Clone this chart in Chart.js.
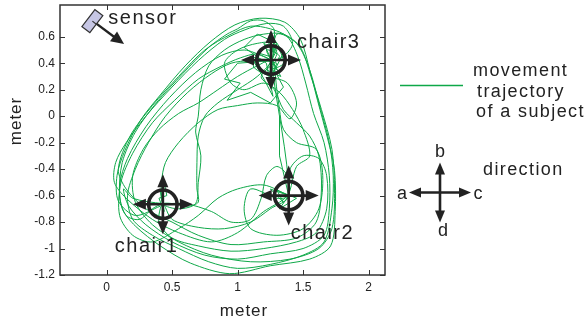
<!DOCTYPE html>
<html><head><meta charset="utf-8">
<script src="https://cdn.jsdelivr.net/npm/chart.js@4/dist/chart.umd.min.js"></script>
<style>html,body{margin:0;padding:0;background:#fff}#wrap{width:585px;height:327px;position:relative}</style>
</head><body><div id="wrap"><canvas id="c" width="585" height="327"></canvas></div>
<script>
// ---- axis ticks ----
const xTicks = [0, 0.5, 1, 1.5, 2];
const yTicks = [-1.2, -1, -0.8, -0.6, -0.4, -0.2, 0, 0.2, 0.4, 0.6];
const xRange = [-0.355, 2.125];
const yRange = [-1.2, 0.84];

// ---- landmarks ----
const chairNames = ['chair1', 'chair2', 'chair3'];
const chairX = [0.43, 1.39, 1.255];
const chairY = [-0.665, -0.6, 0.425];
const sensorPos = [-0.108, 0.718];
const sensorAim = [0.134, 0.545];

// ---- trajectory ----
const loop1 = [[0.41,-0.68],[0.22,-0.75],[0.09,-0.64],[0.08,-0.45],[0.14,-0.26],[0.26,-0.03],[0.41,0.16],[0.60,0.38],[0.79,0.56],[0.98,0.69],[1.17,0.74],[1.36,0.71],[1.48,0.58],[1.55,0.35],[1.61,0.12],[1.69,-0.18],[1.74,-0.41],[1.745,-0.72],[1.71,-0.98],[1.55,-1.08],[1.25,-1.13],[0.94,-1.19],[0.64,-1.11],[0.41,-0.98],[0.22,-0.83],[0.12,-0.70]];
const loop2 = [[0.10,-0.52],[0.16,-0.32],[0.30,-0.08],[0.48,0.14],[0.68,0.33],[0.88,0.46],[1.05,0.50],[1.20,0.45],[1.26,0.42],[1.30,0.35],[1.22,0.50],[1.32,0.45],[1.18,0.30],[1.28,0.20],[1.35,0.05],[1.45,-0.05],[1.55,-0.15],[1.62,-0.30],[1.64,-0.55],[1.60,-0.80],[1.45,-0.92],[1.20,-0.95],[0.95,-0.97],[0.70,-0.90],[0.50,-0.80],[0.30,-0.70],[0.15,-0.55],[0.09,-0.40]];
const loop3 = [[0.18,-0.15],[0.35,0.08],[0.55,0.30],[0.75,0.50],[0.95,0.62],[1.10,0.68],[1.25,0.66],[1.38,0.60],[1.46,0.45],[1.52,0.25],[1.58,0.02],[1.66,-0.20],[1.70,-0.45],[1.70,-0.70],[1.66,-0.90],[1.50,-1.00],[1.25,-1.04],[1.00,-1.08],[0.75,-1.05],[0.50,-0.95],[0.30,-0.82],[0.17,-0.68],[0.13,-0.55]];
const loop4 = [[0.20,-0.62],[0.43,-0.66],[0.60,-0.66],[0.80,-0.72],[0.95,-0.80],[1.10,-0.78],[1.18,-0.62],[1.22,-0.45],[1.30,-0.38],[1.38,-0.45],[1.39,-0.60],[1.30,-0.62],[1.10,-0.55],[1.05,-0.70],[1.10,-0.85],[1.30,-0.90],[1.50,-0.85],[1.62,-0.70],[1.65,-0.45],[1.60,-0.25],[1.45,-0.20],[1.35,-0.10],[1.32,0.05],[1.30,0.20],[1.26,0.42]];
const loop5 = [[1.15,0.38],[1.00,0.30],[0.85,0.20],[0.70,0.10],[0.55,0.02],[0.40,-0.10],[0.28,-0.25],[0.20,-0.45],[0.22,-0.65],[0.35,-0.82],[0.55,-0.95],[0.80,-1.05],[1.10,-1.10],[1.40,-1.08],[1.62,-1.00],[1.72,-0.85],[1.74,-0.55],[1.72,-0.25],[1.64,0.05],[1.56,0.30],[1.48,0.52],[1.35,0.62],[1.20,0.62],[1.05,0.58],[0.90,0.50],[0.78,0.38],[0.72,0.20],[0.70,0.00],[0.68,-0.12],[0.72,-0.30],[0.70,-0.50],[0.68,-0.66],[0.55,-0.70],[0.43,-0.66]];
const loop6 = [[0.42,-0.50],[0.45,-0.35],[0.55,-0.20],[0.70,-0.05],[0.85,0.05],[1.00,0.08],[1.15,0.10],[1.30,0.08],[1.40,-0.02],[1.45,0.10],[1.38,0.25],[1.25,0.30],[1.12,0.38],[1.22,0.52],[1.30,0.48],[1.25,0.36],[1.35,0.40],[1.28,0.55],[1.15,0.55],[1.00,0.50],[0.90,0.40],[0.95,0.25],[1.05,0.20],[1.20,0.25],[1.32,0.18],[1.42,0.05],[1.50,-0.10],[1.55,-0.30],[1.45,-0.38],[1.38,-0.60]];
const loop7 = [[1.20,-0.72],[1.00,-0.88],[0.80,-0.95],[0.55,-0.88],[0.35,-0.78],[0.15,-0.62],[0.06,-0.50],[0.07,-0.35],[0.15,-0.20],[0.30,0.00],[0.50,0.22],[0.70,0.42],[0.90,0.58],[1.05,0.65],[1.22,0.70],[1.35,0.68],[1.42,0.55],[1.35,0.45],[1.26,0.42]];
const loop8 = [[1.10,0.42],[0.95,0.40],[0.80,0.32],[0.62,0.18],[0.45,0.00],[0.32,-0.20],[0.22,-0.40],[0.16,-0.60],[0.20,-0.78],[0.35,-0.90],[0.55,-1.00],[0.78,-1.10],[1.00,-1.15],[1.25,-1.12],[1.50,-1.05],[1.66,-0.95],[1.72,-0.70],[1.73,-0.45],[1.70,-0.20],[1.62,0.10],[1.55,0.35],[1.45,0.55],[1.30,0.62],[1.26,0.42]];
const loop9 = [[1.15,0.30],[1.00,0.20],[0.85,0.10],[0.75,0.00],[0.70,-0.15],[0.69,-0.35],[0.69,-0.55],[0.70,-0.65],[0.62,-0.68],[0.50,-0.66],[0.43,-0.66],[0.35,-0.70],[0.25,-0.78],[0.15,-0.75],[0.10,-0.60],[0.12,-0.35],[0.22,-0.12],[0.38,0.10],[0.58,0.32],[0.78,0.52],[0.92,0.62],[1.00,0.66],[1.10,0.72],[1.20,0.72],[1.28,0.65],[1.26,0.42]];
const loop10 = [[1.39,-0.60],[1.25,-0.70],[1.10,-0.80],[0.90,-0.85],[0.70,-0.84],[0.50,-0.78],[0.43,-0.66],[0.40,-0.80],[0.50,-0.92],[0.70,-0.98],[0.95,-1.02],[1.20,-1.00],[1.45,-0.95],[1.60,-0.88],[1.68,-0.70],[1.68,-0.45],[1.62,-0.32],[1.50,-0.30],[1.40,-0.40],[1.39,-0.60]];
const loop11 = [[1.39,-0.60],[1.20,-0.52],[1.00,-0.55],[0.85,-0.62],[0.70,-0.75],[0.55,-0.85],[0.35,-0.95],[0.20,-0.90],[0.10,-0.75],[0.11,-0.50],[0.20,-0.28],[0.35,-0.05],[0.52,0.12],[0.70,0.28],[0.88,0.38],[1.02,0.44],[1.15,0.47],[1.26,0.42]];
const jagChair3 = [[1.26,0.42],[1.20,0.55],[1.30,0.50],[1.22,0.35],[1.33,0.30],[1.25,0.45],[1.15,0.48],[1.28,0.58],[1.35,0.48],[1.24,0.26],[1.30,0.40],[1.10,0.45],[1.18,0.32],[1.27,0.15],[1.22,0.40],[1.05,0.52],[1.15,0.62],[1.30,0.55],[1.26,0.42],[1.00,0.40],[0.90,0.28],[1.02,0.25],[0.92,0.12],[1.10,0.18],[1.25,0.10],[1.35,0.22],[1.28,0.35]];
const jagChair2 = [[1.39,-0.60],[1.25,-0.55],[1.35,-0.65],[1.30,-0.56],[1.45,-0.62],[1.32,-0.70],[1.39,-0.60],[1.32,-0.30],[1.32,0.00]];
const jagChair1 = [[0.43,-0.66],[0.41,-0.55],[0.44,-0.72],[0.40,-0.62],[0.46,-0.60],[0.43,-0.45]];

const smoothPath = [].concat(loop1, loop2, loop3, loop4, loop5, loop6, loop7, loop8, loop9, loop10, loop11);
const jagPaths = [jagChair3, jagChair2, jagChair1];

const GREEN = 'rgb(14,168,72)';
const INK = '#222';
const FONT = "'Liberation Sans', Arial, Helvetica, sans-serif";

function fmt(v){ if (Math.abs(v) < 1e-9) return '0'; return (v<0?'-':'') + String(+Math.abs(v).toFixed(2)); }

function head(ctx, x, y, ang, len, w){
  ctx.beginPath();
  ctx.moveTo(x, y);
  ctx.lineTo(x - len*Math.cos(ang) + (w/2)*Math.sin(ang), y - len*Math.sin(ang) - (w/2)*Math.cos(ang));
  ctx.lineTo(x - len*Math.cos(ang) - (w/2)*Math.sin(ang), y - len*Math.sin(ang) + (w/2)*Math.cos(ang));
  ctx.closePath(); ctx.fill();
}
function cross(ctx, cx, cy, hx, hy, lw, hl, hw){
  ctx.lineWidth = lw;
  ctx.beginPath();
  ctx.moveTo(cx-hx+hl*0.6, cy); ctx.lineTo(cx+hx-hl*0.6, cy);
  ctx.moveTo(cx, cy-hy+hl*0.6); ctx.lineTo(cx, cy+hy-hl*0.6);
  ctx.stroke();
  head(ctx, cx-hx, cy, Math.PI, hl, hw);
  head(ctx, cx+hx, cy, 0, hl, hw);
  head(ctx, cx, cy-hy, -Math.PI/2, hl, hw);
  head(ctx, cx, cy+hy, Math.PI/2, hl, hw);
}
function txt(ctx, s, x, y, size, sp, align){
  ctx.font = size + 'px ' + FONT;
  ctx.letterSpacing = sp + 'px';
  ctx.textAlign = align || 'left';
  ctx.textBaseline = 'alphabetic';
  ctx.fillText(s, x, y);
  ctx.letterSpacing = '0px';
}

const decor = {
  id: 'decor',
  afterDraw(chart){
    const ctx = chart.ctx, a = chart.chartArea, xs = chart.scales.x, ys = chart.scales.y;
    ctx.save();
    ctx.strokeStyle = '#333'; ctx.fillStyle = INK;
    // frame
    ctx.lineWidth = 1.5;
    ctx.strokeRect(a.left, a.top, a.right-a.left, a.bottom-a.top);
    // inward ticks
    ctx.lineWidth = 1;
    ctx.beginPath();
    xTicks.forEach(v => { const p = Math.round(xs.getPixelForValue(v))+0.5;
      ctx.moveTo(p, a.bottom); ctx.lineTo(p, a.bottom-5);
      ctx.moveTo(p, a.top); ctx.lineTo(p, a.top+5); });
    yTicks.forEach(v => { const p = Math.round(ys.getPixelForValue(v))+0.5;
      ctx.moveTo(a.left, p); ctx.lineTo(a.left+5, p);
      ctx.moveTo(a.right, p); ctx.lineTo(a.right-5, p); });
    ctx.stroke();
    // axis titles
    ctx.fillStyle = INK;
    txt(ctx, 'meter', 244, 316, 17, 1, 'center');
    ctx.save(); ctx.translate(21, 121); ctx.rotate(-Math.PI/2);
    txt(ctx, 'meter', 0, 0, 17, 1, 'center'); ctx.restore();

    // chairs
    ctx.strokeStyle = INK; ctx.fillStyle = INK;
    chairX.forEach((cxv, i) => {
      const cx = xs.getPixelForValue(cxv), cy = ys.getPixelForValue(chairY[i]);
      cross(ctx, cx, cy, 30, 30, 2.6, 13, 11);
      ctx.lineWidth = 3.6;
      ctx.beginPath(); ctx.arc(cx, cy, 14.2, 0, Math.PI*2); ctx.stroke();
    });
    const labelOff = [[-48, 48], [2, 43], [26, -12]];
    chairNames.forEach((n, i) => {
      const cx = xs.getPixelForValue(chairX[i]), cy = ys.getPixelForValue(chairY[i]);
      txt(ctx, n, cx + labelOff[i][0], cy + labelOff[i][1], 20, 1.5);
    });

    // sensor
    const sx = xs.getPixelForValue(sensorPos[0]), sy = ys.getPixelForValue(sensorPos[1]);
    const tx = xs.getPixelForValue(sensorAim[0]), ty = ys.getPixelForValue(sensorAim[1]);
    const ang = Math.atan2(ty - sy, tx - sx);
    ctx.lineWidth = 2.4;
    ctx.beginPath(); ctx.moveTo(sx+2, sy+1); ctx.lineTo(tx - 10*Math.cos(ang), ty - 10*Math.sin(ang)); ctx.stroke();
    head(ctx, tx, ty, ang, 13, 12);
    ctx.save(); ctx.translate(sx, sy); ctx.rotate(-52.6*Math.PI/180);
    ctx.fillStyle = '#c6c6e4'; ctx.strokeStyle = '#333'; ctx.lineWidth = 1.2;
    ctx.fillRect(-10.7, -5, 21.4, 10); ctx.strokeRect(-10.7, -5, 21.4, 10);
    ctx.beginPath(); ctx.moveTo(0, 0); ctx.lineTo(0, 5); ctx.stroke();
    ctx.restore();
    ctx.fillStyle = INK;
    txt(ctx, 'sensor', sx + 16, sy + 3, 20, 1.5);

    // legend: trajectory
    ctx.strokeStyle = GREEN; ctx.lineWidth = 1.6;
    ctx.beginPath(); ctx.moveTo(400, 85.5); ctx.lineTo(463, 85.5); ctx.stroke();
    ctx.fillStyle = INK;
    txt(ctx, 'movement', 473, 76, 18, 1.4);
    txt(ctx, 'trajectory', 477, 97, 18, 1.4);
    txt(ctx, 'of a subject', 476, 117, 18, 1.4);

    // legend: direction
    ctx.strokeStyle = INK; ctx.fillStyle = INK;
    cross(ctx, 440, 192.5, 31, 30, 2.6, 12, 10);
    txt(ctx, 'b', 440, 157, 18, 0, 'center');
    txt(ctx, 'a', 402, 199, 18, 0, 'center');
    txt(ctx, 'c', 478, 199, 18, 0, 'center');
    txt(ctx, 'd', 443, 236, 18, 0, 'center');
    txt(ctx, 'direction', 483, 175, 18, 1.4);
    ctx.restore();
  }
};

const toPts = arr => arr.map(p => ({x: p[0], y: p[1]}));
const datasets = [{
  data: toPts(smoothPath), showLine: true, borderColor: GREEN, borderWidth: 1,
  pointRadius: 0, tension: 0.3, fill: false
}].concat(jagPaths.map(p => ({
  data: toPts(p), showLine: true, borderColor: GREEN, borderWidth: 1,
  pointRadius: 0, tension: 0, fill: false
})));

const tickFont = {family: FONT, size: 12};
new Chart(document.getElementById('c'), {
  type: 'scatter',
  data: {datasets},
  options: {
    responsive: false, animation: false, devicePixelRatio: 1,
    layout: {padding: {left: 0, right: 200, top: 5, bottom: 0}},
    plugins: {legend: {display: false}, tooltip: {enabled: false}},
    scales: {
      x: {
        type: 'linear', min: xRange[0], max: xRange[1],
        afterBuildTicks: s => { s.ticks = xTicks.map(v => ({value: v})); },
        afterFit: s => { s.height = 52; s.paddingLeft = 0; s.paddingRight = 0; },
        ticks: {font: tickFont, color: INK, padding: 5, maxRotation: 0, autoSkip: false, callback: v => fmt(v)},
        grid: {display: false, drawTicks: false}, border: {display: false}
      },
      y: {
        type: 'linear', min: yRange[0], max: yRange[1],
        afterBuildTicks: s => { s.ticks = yTicks.map(v => ({value: v})); },
        afterFit: s => { s.width = 60; s.paddingTop = 0; s.paddingBottom = 0; },
        ticks: {font: tickFont, color: INK, padding: 5, autoSkip: false, callback: v => fmt(v)},
        grid: {display: false, drawTicks: false}, border: {display: false}
      }
    }
  },
  plugins: [decor]
});
</script>
</body></html>
